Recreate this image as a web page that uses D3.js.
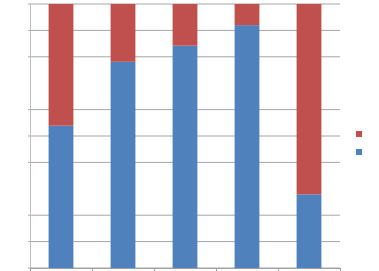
<!DOCTYPE html>
<html>
<head>
<meta charset="utf-8">
<script src="https://cdn.jsdelivr.net/npm/d3@7"></script>
<style>
  body { margin: 0; background: #fff; }
  svg { display: block; }
</style>
</head>
<body>
<div id="chart"></div>
<script>
var categories = ["1", "2", "3", "4", "5"];
var seriesNames = ["Series1", "Series2"];
var series1 = [53.9, 78.1, 84.2, 92.0, 27.9];   // blue, bottom
var series2 = [46.1, 21.9, 15.8, 8.0, 72.1];    // red, top
// gridlines seen in the picture (no line at 30% and 70%)
var yTicks = [0, 0.1, 0.2, 0.4, 0.5, 0.6, 0.8, 0.9, 1];
var colors = ["#4F81BD", "#C0504D"];

var width = 379, height = 271;
var margin = {top: 4, right: 39, bottom: 3, left: 30};

var rows = categories.map(function(c, i) {
  return {cat: c, Series1: series1[i], Series2: series2[i]};
});

var stack = d3.stack()
    .keys(seriesNames)
    .offset(d3.stackOffsetExpand);
var layers = stack(rows);

var svg = d3.select("#chart")
    .append("svg")
    .attr("width", width)
    .attr("height", height);

var x = d3.scaleBand()
    .domain(categories)
    .range([margin.left, width - margin.right])
    .paddingInner(0.6)
    .paddingOuter(0.3);

var y = d3.scaleLinear()
    .domain([0, 1])
    .range([height - margin.bottom, margin.top]);

// gridlines
svg.append("g")
    .attr("class", "grid")
    .selectAll("line")
    .data(yTicks)
  .enter().append("line")
    .attr("x1", margin.left - 2)
    .attr("x2", width - margin.right)
    .attr("y1", function(d) { return y(d); })
    .attr("y2", function(d) { return y(d); })
    .style("stroke", "#a6a6a6")
    .style("stroke-width", 1);

// bars
svg.append("g")
  .selectAll("g")
    .data(layers)
  .enter().append("g")
    .style("fill", function(d, i) { return colors[i]; })
  .selectAll("rect")
    .data(function(d) { return d; })
  .enter().append("rect")
    .attr("x", function(d) { return x(d.data.cat); })
    .attr("width", x.bandwidth())
    .attr("y", function(d) { return y(d[1]); })
    .attr("height", function(d) { return y(d[0]) - y(d[1]); });

// y axis line
svg.append("line")
    .attr("x1", margin.left + 0.5)
    .attr("x2", margin.left + 0.5)
    .attr("y1", y(1))
    .attr("y2", y(0))
    .style("stroke", "#bfbfbf");

// x axis with ticks between categories
var bounds = d3.range(categories.length + 1).map(function(i) {
  return margin.left + i * x.step();
});
var xAxis = svg.append("g");
xAxis.append("line")
    .attr("x1", margin.left)
    .attr("x2", width - margin.right)
    .attr("y1", y(0) + 0.5)
    .attr("y2", y(0) + 0.5)
    .style("stroke", "#a0a0a0");
xAxis.selectAll(".xt")
    .data(bounds)
  .enter().append("line")
    .attr("class", "xt")
    .attr("x1", function(d) { return Math.round(d) + 0.5; })
    .attr("x2", function(d) { return Math.round(d) + 0.5; })
    .attr("y1", y(0))
    .attr("y2", y(0) + 4)
    .style("stroke", "#a0a0a0");

// legend (squares only)
var legend = svg.append("g")
    .attr("transform", "translate(356,131)");
legend.selectAll("rect")
    .data(seriesNames.slice().reverse())
  .enter().append("rect")
    .attr("x", 0)
    .attr("y", function(d, i) { return i * 18; })
    .attr("width", 6)
    .attr("height", 6)
    .style("fill", function(d) { return colors[seriesNames.indexOf(d)]; });
</script>
</body>
</html>
